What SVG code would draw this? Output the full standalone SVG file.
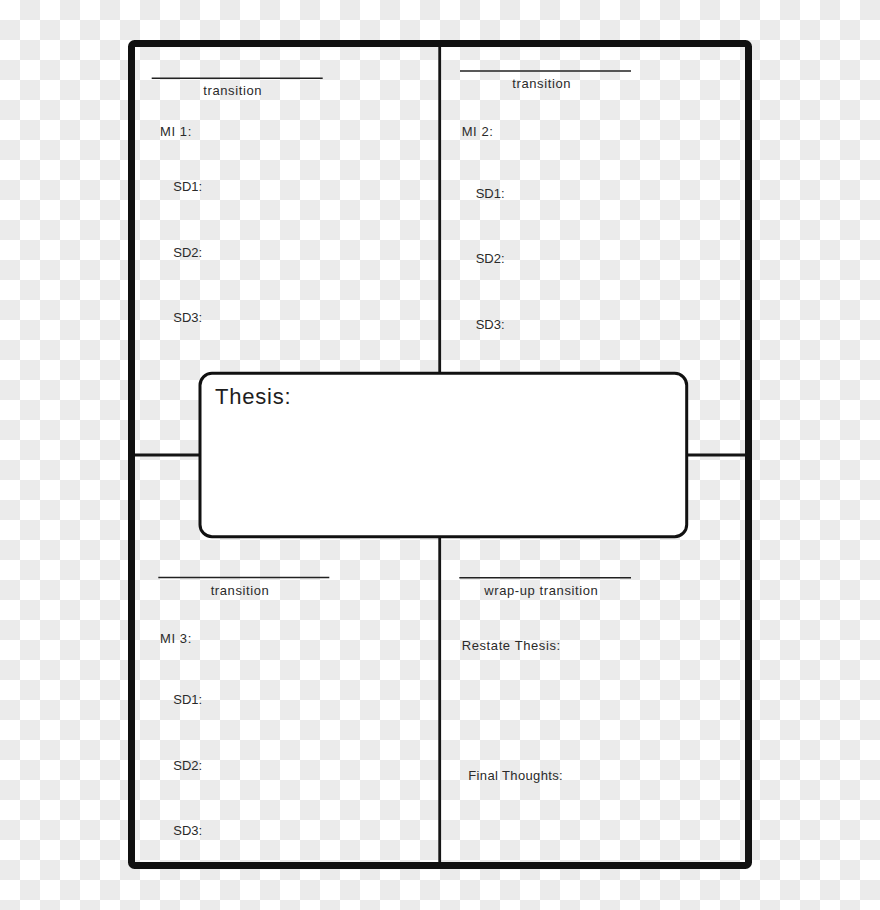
<svg xmlns="http://www.w3.org/2000/svg" width="880" height="910" viewBox="0 0 880 910">
  <defs>
    <pattern id="checker" x="0" y="0" width="40" height="40" patternUnits="userSpaceOnUse">
      <rect x="0" y="0" width="40" height="40" fill="#ffffff"/>
      <rect x="20" y="0" width="20" height="20" fill="#ebebeb"/>
      <rect x="0" y="20" width="20" height="20" fill="#ebebeb"/>
    </pattern>
    <style>
      .hand { font-family: "Liberation Sans", Arial, sans-serif; font-size: 13px; fill: #2a2a2a; letter-spacing: 0.6px; }
      .sd { font-family: "Liberation Sans", Arial, sans-serif; font-size: 13px; fill: #2a2a2a; }
      .rule { stroke: #222; stroke-width: 1.5; fill: none; }
      .divider { stroke: #151515; stroke-width: 2.8; fill: none; }
    </style>
  </defs>
  <rect x="0" y="0" width="880" height="910" fill="url(#checker)"/>

  <g id="connectors">
    <line class="divider" x1="439.7" y1="46" x2="439.7" y2="863"/>
    <line class="divider" x1="134" y1="455" x2="746" y2="455"/>
  </g>

  <g id="frame">
    <rect x="131.5" y="43.5" width="617" height="822" rx="3" fill="none" stroke="#111" stroke-width="7"/>
  </g>

  <g id="quadrant-mi1">
    <line class="rule" x1="151.7" y1="78.3" x2="322.7" y2="78.3"/>
    <text class="hand" x="232.7" y="95" text-anchor="middle">transition</text>
    <text class="hand" x="160" y="136">MI 1:</text>
    <text class="sd" x="173.3" y="190.7">SD1:</text>
    <text class="sd" x="173.3" y="256.7">SD2:</text>
    <text class="sd" x="173.3" y="321.7">SD3:</text>
  </g>

  <g id="quadrant-mi2">
    <line class="rule" x1="460" y1="71" x2="631" y2="71"/>
    <text class="hand" x="541.7" y="88" text-anchor="middle">transition</text>
    <text class="hand" x="461.7" y="136">MI 2:</text>
    <text class="sd" x="475.7" y="197.7">SD1:</text>
    <text class="sd" x="475.7" y="263.3">SD2:</text>
    <text class="sd" x="475.7" y="328.7">SD3:</text>
  </g>

  <g id="quadrant-mi3">
    <line class="rule" x1="158.3" y1="577.5" x2="329.3" y2="577.5"/>
    <text class="hand" x="240" y="595" text-anchor="middle">transition</text>
    <text class="hand" x="160" y="643">MI 3:</text>
    <text class="sd" x="173.3" y="704.3">SD1:</text>
    <text class="sd" x="173.3" y="770">SD2:</text>
    <text class="sd" x="173.3" y="835">SD3:</text>
  </g>

  <g id="quadrant-conclusion">
    <line class="rule" x1="459.3" y1="577.7" x2="631" y2="577.7"/>
    <text class="hand" x="541.3" y="595" text-anchor="middle">wrap-up transition</text>
    <text class="hand" x="461.7" y="650">Restate Thesis:</text>
    <text class="hand" x="468.3" y="780" style="letter-spacing:0.36px">Final Thoughts:</text>
  </g>

  <g id="thesis">
    <rect x="200" y="373.3" width="486.7" height="163.4" rx="12" fill="#ffffff" stroke="#111" stroke-width="3"/>
    <text x="215" y="404" font-family="'Liberation Sans', Arial, sans-serif" font-size="22" fill="#1e1e1e" letter-spacing="0.8">Thesis:</text>
  </g>
</svg>
